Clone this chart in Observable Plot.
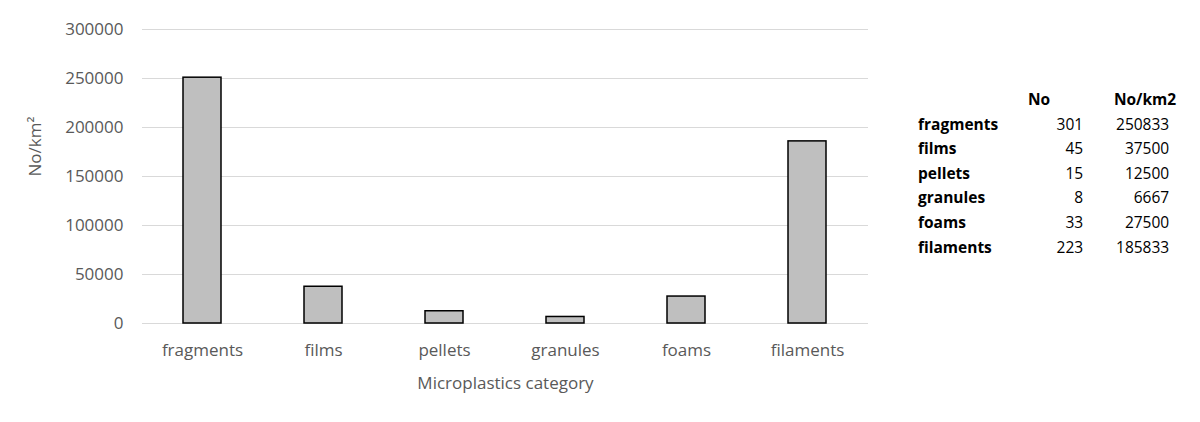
<!DOCTYPE html>
<html>
<head>
<meta charset="utf-8">
<script src="https://cdn.jsdelivr.net/npm/d3@7"></script>
<script src="https://cdn.jsdelivr.net/npm/@observablehq/plot@0.6"></script>
<style>
  html, body { margin: 0; padding: 0; background: #fff; }
  #wrap { position: relative; width: 1200px; height: 422px; font-family: "Open Sans", sans-serif; }
  #tbl { position: absolute; left: 918px; top: 87px; border-collapse: collapse; font-size: 15.5px; color: #000; }
  #tbl td, #tbl th { padding: 0; height: 24.6px; line-height: 24.6px; white-space: nowrap; }
  #tbl th { font-weight: bold; text-align: right; }
  #tbl th.h1 { padding-right: 33px; }
  #tbl th.h2 { position: relative; left: 7px; }
  #tbl td.name { font-weight: bold; text-align: left; width: 110px; }
  #tbl td.n { text-align: right; width: 55px; }
  #tbl td.d { text-align: right; width: 86px; }
</style>
</head>
<body>
<div id="wrap"></div>
<script>
const categories = ["fragments", "films", "pellets", "granules", "foams", "filaments"];
const counts = [301, 45, 15, 8, 33, 223];
const densities = [250833, 37500, 12500, 6667, 27500, 185833];
const yTicks = [0, 50000, 100000, 150000, 200000, 250000, 300000];
const tableHeaders = ["", "No", "No/km2"];
const xTitle = "Microplastics category";
const yTitle = "No/km²";

const data = categories.map((c, i) => ({category: c, count: counts[i], density: densities[i]}));

const chart = Plot.plot({
  width: 1200,
  height: 422,
  marginLeft: 142,
  marginRight: 332,
  marginTop: 29,
  marginBottom: 99,
  style: {fontFamily: "'Open Sans', sans-serif", fontSize: "17px", color: "#595959", background: "#fff"},
  x: {domain: categories, paddingInner: 0.685, paddingOuter: 0.3425},
  y: {domain: [0, 300000]},
  marks: [
    Plot.ruleY(yTicks, {stroke: "#d9d9d9", strokeWidth: 1}),
    Plot.barY(data, {x: "category", y: "density", fill: "#bfbfbf", stroke: "#000", strokeWidth: 1.5}),
    Plot.axisY({ticks: yTicks, tickFormat: d => String(d), tickSize: 0, tickPadding: 19, label: null, fill: "#595959"}),
    Plot.axisX({tickSize: 0, tickPadding: 20, label: null, fill: "#595959"}),
    Plot.text([yTitle], {frameAnchor: "left", rotate: -90, dx: -107, fill: "#595959", fontSize: 17}),
    Plot.text([xTitle], {frameAnchor: "bottom", dy: 65, fill: "#595959", fontSize: 17})
  ]
});
document.getElementById("wrap").appendChild(chart);

const tbl = document.createElement("table");
tbl.id = "tbl";
const head = document.createElement("tr");
tableHeaders.forEach((h, i) => {
  const th = document.createElement("th");
  th.textContent = h;
  th.className = "h" + i;
  head.appendChild(th);
});
tbl.appendChild(head);
categories.forEach((c, i) => {
  const tr = document.createElement("tr");
  [[c, "name"], [counts[i], "n"], [densities[i], "d"]].forEach(([v, cls]) => {
    const td = document.createElement("td");
    td.className = cls;
    td.textContent = v;
    tr.appendChild(td);
  });
  tbl.appendChild(tr);
});
document.getElementById("wrap").appendChild(tbl);
</script>
</body>
</html>
